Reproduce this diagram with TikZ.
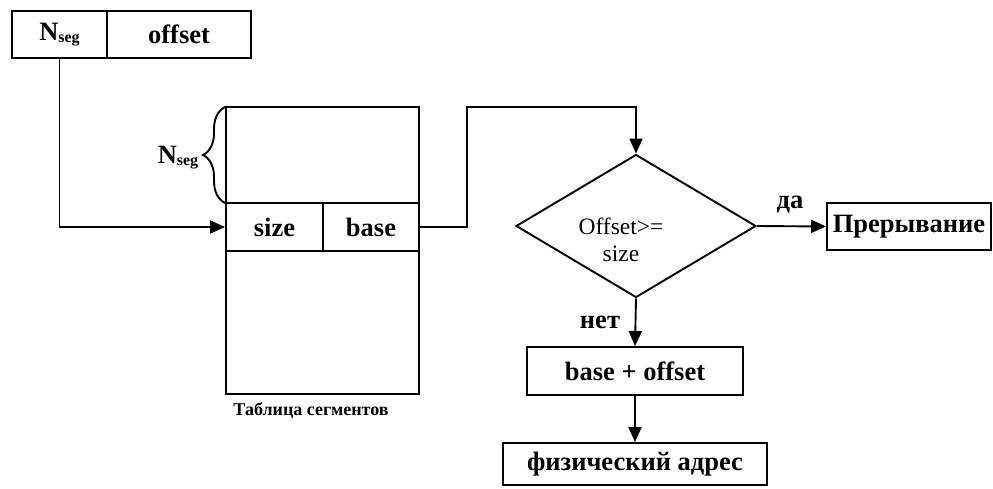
\documentclass[tikz,border=0pt]{standalone}
\usepackage{fontspec}
\setmainfont{Liberation Serif}
\usetikzlibrary{arrows.meta,shapes.geometric,decorations.pathreplacing}
\newcommand{\nseg}{N\raisebox{-2pt}{\fontsize{16}{16}\selectfont seg}}
\begin{document}
\begin{tikzpicture}[x=1pt,y=-1pt,
  every node/.style={font=\bfseries\fontsize{26.5}{30}\selectfont},
  box/.style={draw,line width=1.9pt,inner sep=0pt,rectangle},
  arr/.style={line width=1.9pt,-{Triangle[length=15pt,width=13pt]}},
  ln/.style={line width=1.9pt}]
\useasboundingbox (0,0) rectangle (993,488);
% top address
\node[box,minimum width=95pt,minimum height=47pt] (topL) at (59.5,34.5) {\nseg};
\node[box,minimum width=144pt,minimum height=47pt] (topR) at (179,34.5) {offset};
% segment table
\node[box,minimum width=193pt,minimum height=287pt] (tbl) at (322.5,250.5) {};
\node[box,minimum width=97pt,minimum height=48pt] (size) at (274.5,227) {size};
\node[box,minimum width=96pt,minimum height=48pt] (base) at (371,227) {base};
\draw[ln,decorate,decoration={brace,amplitude=22pt}] (225,203) -- (225,107);
\node (nlab) at (178,158) {\nseg};
\node[font=\bfseries\fontsize{18}{22}\selectfont] (tcap) at (311,411) {Таблица сегментов};
% decision
\node[draw,line width=1.9pt,diamond,minimum width=240pt,minimum height=143pt,inner sep=0pt] (dia) at (636,226) {};
\node[align=center,font=\mdseries\fontsize{23.5}{27}\selectfont] (dtext) at (621,240) {Offset>=\\size};
\node[box,minimum width=164pt,minimum height=47pt] (intr) at (909,226.5) {Прерывание};
\node[box,minimum width=216pt,minimum height=48pt] (sum) at (635,371) {base + offset};
\node[box,minimum width=264pt,minimum height=42pt] (phys) at (635,464) {физический адрес};
% connectors
\draw[arr] (topL.south) |- (size.west);
\coordinate (bend) at (467,107);
\draw[arr] (base.east) -| (bend) -| (dia.north);
\draw[arr] (dia.east) -- (intr.west);
\node (yes) at (790,205) {да};
\draw[arr] (dia.south) -- (sum.north);
\node (no) at (600,322) {нет};
\draw[arr] (sum.south) -- (phys.north);
\end{tikzpicture}
\end{document}
